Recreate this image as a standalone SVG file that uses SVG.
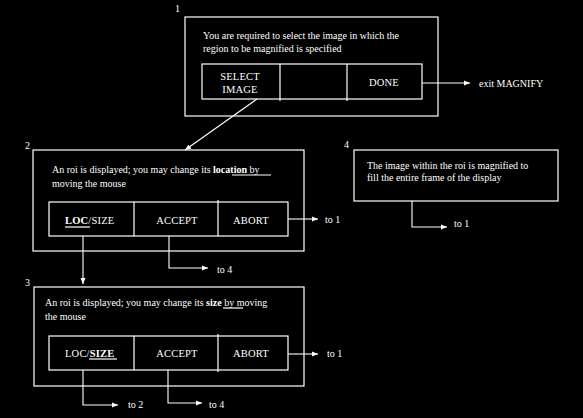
<svg xmlns="http://www.w3.org/2000/svg" width="583" height="418" viewBox="0 0 583 418">
<defs>
<marker id="ah" markerWidth="6" markerHeight="6" refX="6" refY="3" orient="auto" markerUnits="userSpaceOnUse">
<path d="M0,0.5 L6,3 L0,5.5 z" fill="#fff"/>
</marker>
<style>
.bx{fill:none;stroke:#fff;stroke-width:1.2}
.ln{fill:none;stroke:#fff;stroke-width:1.2}
.cn{fill:none;stroke:#fff;stroke-width:1.1;marker-end:url(#ah)}
text{font-family:"Liberation Serif","DejaVu Serif",serif;fill:#fff}
.t{font-size:10px}
.b{font-size:10.5px;letter-spacing:0.2px}
.n{font-size:10px}
.bold{font-weight:bold}
</style>
</defs>
<rect width="583" height="418" fill="#000"/>

<g id="node1">
<text class="n" x="175" y="12">1</text>
<rect class="bx" x="185" y="17" width="253" height="99"/>
<text class="t" x="203" y="39">You are required to select the image in which the</text>
<text class="t" x="203" y="52">region to be magnified is specified</text>
<rect class="bx" x="202" y="64" width="220" height="35"/>
<line class="ln" x1="280" y1="64" x2="280" y2="101"/>
<line class="ln" x1="347" y1="64" x2="347" y2="101"/>
<text class="b" x="240" y="80" text-anchor="middle">SELECT</text>
<text class="b" x="240" y="93" text-anchor="middle">IMAGE</text>
<text class="b" x="384" y="86" text-anchor="middle">DONE</text>
</g>

<g id="node2">
<text class="n" x="25" y="149">2</text>
<rect class="bx" x="33" y="150" width="271" height="101"/>
<text class="t" x="52" y="173">An roi is displayed; you may change its <tspan class="bold">location</tspan> by</text>
<line class="ln" x1="232" y1="175" x2="271" y2="175"/>
<text class="t" x="52" y="187">moving the mouse</text>
<rect class="bx" x="49" y="202" width="239" height="34"/>
<line class="ln" x1="134" y1="202" x2="134" y2="236"/>
<line class="ln" x1="218" y1="200" x2="218" y2="236"/>
<text class="b" x="65" y="224"><tspan class="bold">LOC</tspan>/SIZE</text>
<line class="ln" x1="65" y1="227" x2="90" y2="227"/>
<text class="b" x="177" y="224" text-anchor="middle">ACCEPT</text>
<text class="b" x="251" y="224" text-anchor="middle">ABORT</text>
</g>

<g id="node3">
<text class="n" x="25" y="286">3</text>
<rect class="bx" x="34" y="287" width="270" height="99"/>
<text class="t" x="45" y="306">An roi is displayed; you may change its <tspan class="bold">size</tspan> by moving</text>
<line class="ln" x1="223" y1="308" x2="243" y2="308"/>
<text class="t" x="45" y="320">the mouse</text>
<rect class="bx" x="49" y="336" width="239" height="34"/>
<line class="ln" x1="134" y1="336" x2="134" y2="370"/>
<line class="ln" x1="218" y1="334" x2="218" y2="372"/>
<text class="b" x="65" y="357">LOC/<tspan class="bold">SIZE</tspan></text>
<line class="ln" x1="89" y1="359" x2="117" y2="359"/>
<text class="b" x="177" y="357" text-anchor="middle">ACCEPT</text>
<text class="b" x="251" y="357" text-anchor="middle">ABORT</text>
</g>

<g id="node4">
<text class="n" x="344" y="148">4</text>
<rect class="bx" x="354" y="150" width="204" height="51"/>
<text class="t" x="367" y="169">The image within the roi is magnified to</text>
<text class="t" x="367" y="181">fill the entire frame of the display</text>
</g>

<g id="connectors">
<line class="cn" x1="422" y1="83" x2="470" y2="83"/>
<text class="t" x="479" y="87">exit MAGNIFY</text>
<line class="cn" x1="257" y1="99" x2="185" y2="150"/>
<line class="cn" x1="288" y1="219" x2="318" y2="219"/>
<text class="t" x="325" y="223">to 1</text>
<line class="cn" x1="83" y1="236" x2="83" y2="284"/>
<polyline class="cn" points="169,236 169,268 208,268"/>
<text class="t" x="217" y="273">to 4</text>
<line class="cn" x1="288" y1="354" x2="318" y2="354"/>
<text class="t" x="327" y="357">to 1</text>
<polyline class="cn" points="83,370 83,405 118,405"/>
<text class="t" x="128" y="408">to 2</text>
<polyline class="cn" points="168,370 168,403 202,403"/>
<text class="t" x="209" y="408">to 4</text>
<polyline class="cn" points="412,201 412,227 447,227"/>
<text class="t" x="454" y="227">to 1</text>
</g>
</svg>
